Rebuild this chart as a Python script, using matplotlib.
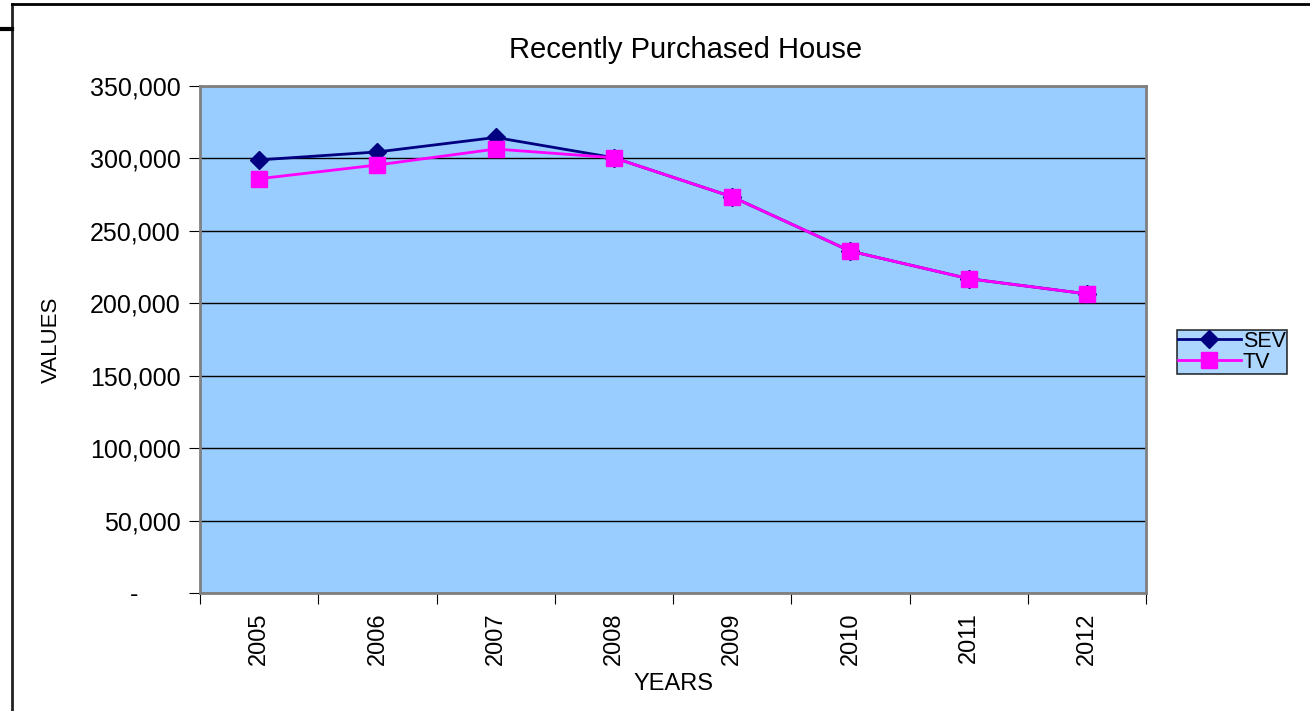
import matplotlib
matplotlib.use("Agg")
import matplotlib.pyplot as plt
from matplotlib.lines import Line2D

years = ["2005", "2006", "2007", "2008", "2009", "2010", "2011", "2012"]
sev = [299000, 304500, 314500, 300500, 273500, 236000, 217000, 206500]
tv = [286000, 295500, 306500, 300500, 273500, 236000, 217000, 206500]
yticks = [0, 50000, 100000, 150000, 200000, 250000, 300000, 350000]

plt.rcParams['font.family'] = ['Liberation Sans', 'DejaVu Sans']

fig = plt.figure(figsize=(13.1, 7.11), dpi=100)
ax = fig.add_axes([0.1527, 0.166, 0.7221, 0.713])
ax.set_facecolor('#99CCFF')

x = list(range(len(years)))
ax.plot(x, sev, color='#000080', marker='D', markersize=9.5, linewidth=2, label='SEV', zorder=3)
ax.plot(x, tv, color='#FF00FF', marker='s', markersize=11.5, linewidth=2, label='TV', zorder=4)

ax.set_xlim(-0.5, len(years) - 0.5)
ax.set_ylim(0, 350000)
ax.set_yticks(yticks)
ax.set_yticklabels(["-      " if v == 0 else f"{v:,}" for v in yticks], fontsize=18)
ax.yaxis.grid(True, color='black', linewidth=1)
ax.set_axisbelow(True)

ax.set_xticks([i + 0.5 for i in range(-1, len(years))])
ax.set_xticklabels([])
ax.set_xticks(x, minor=True)
ax.set_xticklabels(years, minor=True, rotation=90, fontsize=17)
ax.tick_params(axis='x', which='major', direction='out', length=8, color='black')
ax.tick_params(axis='x', which='minor', length=0, pad=14)
ax.tick_params(axis='y', direction='out', length=8, color='black', pad=6)

for s in ax.spines.values():
    s.set_color('#808080')
    s.set_linewidth(2)

fig.text(686 / 1310, 1 - 50 / 711, "Recently Purchased House", fontsize=21, ha='center', va='center')
ax.set_xlabel("YEARS", fontsize=17, labelpad=6)
ax.set_ylabel("VALUES", fontsize=16, labelpad=20)

leg = ax.legend(loc='center left', bbox_to_anchor=(1177 / 1310, 1 - 352 / 711),
                bbox_transform=fig.transFigure, fontsize=15.5,
                frameon=True, fancybox=False, facecolor='#99CCFF', edgecolor='black',
                labelspacing=0, handlelength=2.9, handletextpad=0.1,
                borderpad=0.05, borderaxespad=0)
leg.get_frame().set_linewidth(1.2)

# outer chart border
fig.add_artist(Line2D([12 / 1310, 12 / 1310], [0, 1 - 4 / 711], color='#222222', linewidth=2))
fig.add_artist(Line2D([12 / 1310, 1], [1 - 4 / 711, 1 - 4 / 711], color='black', linewidth=2))
fig.add_artist(Line2D([0, 12 / 1310], [1 - 29 / 711, 1 - 29 / 711], color='black', linewidth=3))

fig.savefig("out.png", dpi=100)
